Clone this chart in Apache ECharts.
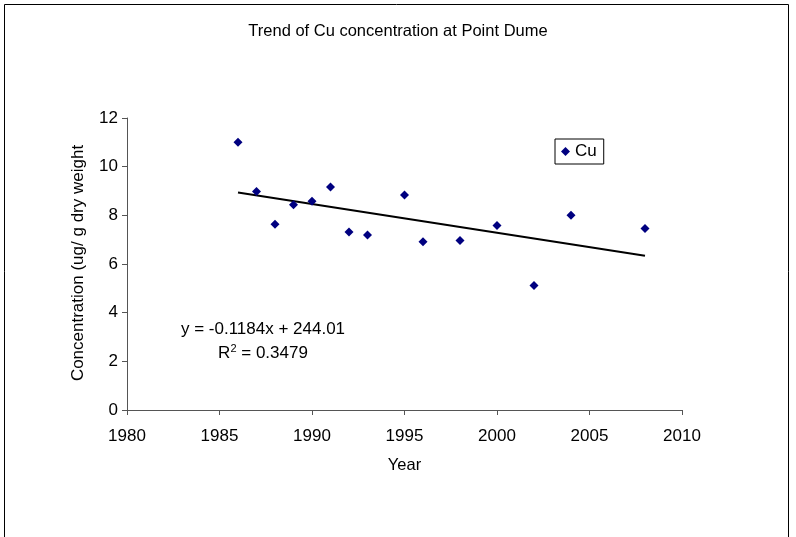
<!DOCTYPE html>
<html>
<head>
<meta charset="utf-8">
<script src="https://cdn.jsdelivr.net/npm/echarts@6/dist/echarts.min.js"></script>
<style>
  html, body { margin: 0; padding: 0; background: #fff; }
  #chart { width: 796px; height: 537px; }
</style>
</head>
<body>
<div id="chart"></div>
<script>
const years = [1986, 1987, 1988, 1989, 1990, 1991, 1992, 1993, 1995, 1996, 1998, 2000, 2002, 2004, 2008]
const cu = [11.0, 8.98, 7.63, 8.43, 8.58, 9.16, 7.32, 7.19, 8.84, 6.91, 6.97, 7.58, 5.12, 8.0, 7.46]
const trendYears = [1986, 2008]
const trendValues = [8.94, 6.34]

const font = 'Liberation Sans, Arial, sans-serif'
const chart = echarts.init(document.getElementById('chart'))

chart.setOption({
  backgroundColor: '#fff',
  animation: false,
  title: {
    text: 'Trend of Cu concentration at Point Dume',
    left: 'center',
    top: 18,
    textStyle: { fontFamily: font, fontSize: 16.5, fontWeight: 'normal', color: '#000' },
  },
  grid: { left: 127, top: 118, right: 114, bottom: 127 },
  legend: {
    left: 555,
    top: 139,
    data: ['Cu'],
    itemWidth: 9,
    itemHeight: 9,
    itemGap: 0,
    padding: [4, 7, 4, 6],
    borderColor: '#000',
    borderWidth: 1,
    textStyle: { fontFamily: font, fontSize: 17, color: '#000' },
  },
  xAxis: {
    type: 'value',
    min: 1980,
    max: 2010,
    interval: 5,
    name: 'Year',
    nameLocation: 'middle',
    nameGap: 47,
    nameTextStyle: { fontFamily: font, fontSize: 16.5, color: '#000' },
    axisLine: { lineStyle: { color: '#555' } },
    axisTick: { length: 5, lineStyle: { color: '#555' } },
    axisLabel: { fontFamily: font, fontSize: 17, color: '#000', margin: 18, formatter: (v) => String(v) },
    splitLine: { show: false },
  },
  yAxis: {
    type: 'value',
    min: 0,
    max: 12,
    interval: 2,
    axisLine: { show: true, lineStyle: { color: '#555' } },
    axisTick: { show: true, length: 5, lineStyle: { color: '#555' } },
    axisLabel: { fontFamily: font, fontSize: 17, color: '#000', margin: 9 },
    splitLine: { show: false },
  },
  graphic: [
    {
      type: 'rect',
      shape: { x: 4.5, y: 4.5, width: 784, height: 540 },
      style: { fill: 'none', stroke: '#000', lineWidth: 1 },
      silent: true,
    },
    {
      type: 'text',
      x: 78,
      y: 263,
      rotation: Math.PI / 2,
      style: {
        text: 'Concentration (ug/ g dry weight',
        fontFamily: font, fontSize: 17, fill: '#000',
        align: 'center', verticalAlign: 'middle',
      },
    },
    {
      type: 'text',
      x: 263,
      y: 329,
      style: {
        text: 'y = -0.1184x + 244.01',
        fontFamily: font, fontSize: 17, fill: '#000',
        align: 'center', verticalAlign: 'middle',
      },
    },
    {
      type: 'text',
      x: 263,
      y: 353,
      style: {
        text: '{r|R}{s|2}{r| = 0.3479}',
        fontFamily: font, fontSize: 17, fill: '#000',
        align: 'center', verticalAlign: 'middle',
        rich: {
          r: { fontFamily: font, fontSize: 17, fill: '#000' },
          s: { fontFamily: font, fontSize: 11, fill: '#000', verticalAlign: 'top', padding: [0, 0, 9, 0] },
        },
      },
    },
  ],
  series: [
    {
      name: 'Cu',
      type: 'scatter',
      symbol: 'diamond',
      symbolSize: 9,
      itemStyle: { color: '#000080', opacity: 1 },
      data: years.map((y, i) => [y, cu[i]]),
      z: 3,
    },
    {
      name: 'trend',
      type: 'line',
      symbol: 'none',
      lineStyle: { color: '#000', width: 2 },
      data: trendYears.map((y, i) => [y, trendValues[i]]),
      z: 2,
    },
  ],
})
</script>
</body>
</html>
